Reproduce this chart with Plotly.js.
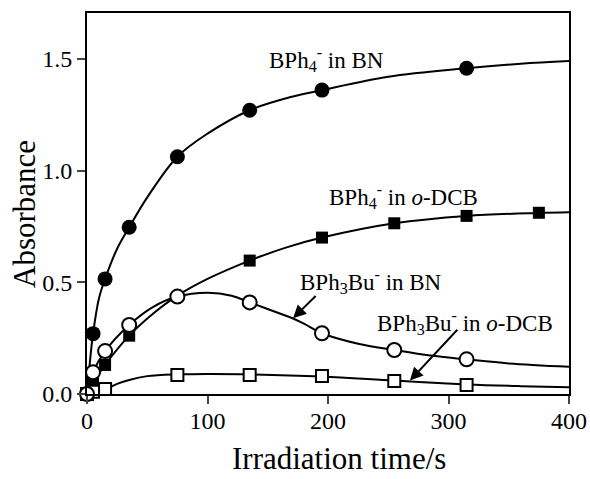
<!DOCTYPE html>
<html><head><meta charset="utf-8">
<script src="https://cdn.plot.ly/plotly-3.0.1.min.js"></script>
<style>body{margin:0;background:#fff}#chart{width:590px;height:479px}</style>
</head><body><div id="chart"></div>
<script>
// Measured points
const tBN1 = [5, 15, 35, 75, 135, 195, 315];
const aBN1 = [0.27, 0.515, 0.746, 1.062, 1.27, 1.36, 1.458];
const tDCB1 = [5, 15, 35, 135, 195, 255, 315, 375];
const aDCB1 = [0.05, 0.13, 0.261, 0.597, 0.70, 0.764, 0.797, 0.811];
const tBN2 = [0, 5, 15, 35, 75, 135, 195, 255, 315];
const aBN2 = [0.0, 0.097, 0.192, 0.309, 0.436, 0.41, 0.272, 0.197, 0.155];
const tDCB2 = [0, 5, 15, 75, 135, 195, 255, 315];
const aDCB2 = [0.0, 0.01, 0.022, 0.085, 0.085, 0.08, 0.058, 0.04];

// Fitted curves
const ctBN1 = [0, 2, 5, 10, 15, 25, 35, 50, 75, 100, 135, 170, 195, 250, 315, 360, 400];
const caBN1 = [0, 0.12, 0.27, 0.43, 0.515, 0.65, 0.746, 0.88, 1.062, 1.165, 1.27, 1.33, 1.36, 1.42, 1.458, 1.478, 1.49];
const ctDCB1 = [0, 5, 15, 35, 55, 75, 100, 135, 165, 195, 255, 315, 375, 400];
const caDCB1 = [0, 0.05, 0.13, 0.261, 0.36, 0.44, 0.515, 0.597, 0.655, 0.70, 0.764, 0.797, 0.81, 0.813];
const ctBN2 = [0, 5, 15, 35, 55, 75, 100, 120, 135, 160, 170, 180, 195, 225, 255, 285, 315, 350, 400];
const caBN2 = [0, 0.097, 0.192, 0.309, 0.39, 0.436, 0.453, 0.44, 0.41, 0.36, 0.34, 0.315, 0.272, 0.225, 0.197, 0.172, 0.155, 0.137, 0.122];
const ctDCB2 = [0, 8, 15, 25, 35, 50, 75, 100, 135, 195, 255, 315, 360, 400];
const caDCB2 = [0, 0.003, 0.02, 0.045, 0.063, 0.08, 0.088, 0.09, 0.088, 0.078, 0.06, 0.043, 0.035, 0.03];

const labels = ["BPh<sub>4</sub><sup>-</sup> in BN", "BPh<sub>4</sub><sup>-</sup> in <i>o</i>-DCB",
                "BPh<sub>3</sub>Bu<sup>-</sup> in BN", "BPh<sub>3</sub>Bu<sup>-</sup> in <i>o</i>-DCB"];
const labelX = [199, 263, 236, 314];
const labelY = [1.495, 0.883, 0.503, 0.32];

const tickVals = [0, 100, 200, 300, 400];
const yTickVals = [0, 0.5, 1.0, 1.5];
const yTickText = ["0.0", "0.5", "1.0", "1.5"];

const font = "Liberation Serif, Times New Roman, serif";
const lineStyle = {color: "#000", width: 2, shape: "spline", smoothing: 1};

const traces = [
  {x: ctBN1, y: caBN1, mode: "lines", line: lineStyle, cliponaxis: false},
  {x: ctDCB1, y: caDCB1, mode: "lines", line: lineStyle, cliponaxis: false},
  {x: ctBN2, y: caBN2, mode: "lines", line: lineStyle, cliponaxis: false},
  {x: ctDCB2, y: caDCB2, mode: "lines", line: lineStyle, cliponaxis: false},
  {x: tBN1, y: aBN1, mode: "markers", cliponaxis: false,
   marker: {symbol: "circle", size: 15, color: "#000"}},
  {x: tDCB1, y: aDCB1, mode: "markers", cliponaxis: false,
   marker: {symbol: "square", size: 12, color: "#000"}},
  {x: tDCB2, y: aDCB2, mode: "markers", cliponaxis: false,
   marker: {symbol: "square", size: 12, color: "#fff", line: {color: "#000", width: 2}}},
  {x: tBN2, y: aBN2, mode: "markers", cliponaxis: false,
   marker: {symbol: "circle", size: 14, color: "#fff", line: {color: "#000", width: 2}}}
];

const L = 87, R = 21, T = 13, B = 85, W = 590, H = 479;
const pw = W - L - R, ph = H - T - B;

const annotations = labels.map((s, i) => ({
  x: labelX[i], y: labelY[i], xref: "x", yref: "y", text: s, showarrow: false,
  xanchor: "center", yanchor: "middle", font: {family: font, size: 23, color: "#000"}
}));
annotations.push({x: 171, y: 0.339, ax: 191, ay: 0.445, xref: "x", yref: "y", axref: "x", ayref: "y",
  text: "", showarrow: true, arrowhead: 2, arrowsize: 1.3, arrowwidth: 2, arrowcolor: "#000"});
annotations.push({x: 268, y: 0.06, ax: 308.5, ay: 0.294, xref: "x", yref: "y", axref: "x", ayref: "y",
  text: "", showarrow: true, arrowhead: 2, arrowsize: 1.3, arrowwidth: 2, arrowcolor: "#000"});
annotations.push({x: (339 - L) / pw, y: (H - B - 458) / ph, xref: "paper", yref: "paper",
  xanchor: "center", yanchor: "middle", text: "Irradiation time/s", showarrow: false,
  font: {family: font, size: 31, color: "#000"}});
annotations.push({x: (25 - L) / pw, y: (H - B - 214) / ph, xref: "paper", yref: "paper",
  xanchor: "center", yanchor: "middle", text: "Absorbance", textangle: -90, showarrow: false,
  font: {family: font, size: 31, color: "#000"}});

const layout = {
  width: W, height: H, margin: {l: L, r: R, t: T, b: B},
  paper_bgcolor: "#fff", plot_bgcolor: "#fff", showlegend: false,
  font: {family: font, size: 24, color: "#000"},
  xaxis: {range: [0, 400], tickvals: tickVals, ticks: "outside", ticklen: 8, tickwidth: 2,
    ticklabelstandoff: -4,
    showline: true, linewidth: 2, linecolor: "#000", mirror: true, showgrid: false, zeroline: false,
    tickfont: {family: font, size: 24, color: "#000"}},
  yaxis: {range: [0, 1.705], tickvals: yTickVals, ticktext: yTickText, ticks: "outside", ticklen: 8, tickwidth: 2,
    showline: true, linewidth: 2, linecolor: "#000", mirror: true, showgrid: false, zeroline: false,
    tickfont: {family: font, size: 24, color: "#000"}},
  annotations: annotations
};
Plotly.newPlot("chart", traces, layout, {staticPlot: true});
</script></body></html>
